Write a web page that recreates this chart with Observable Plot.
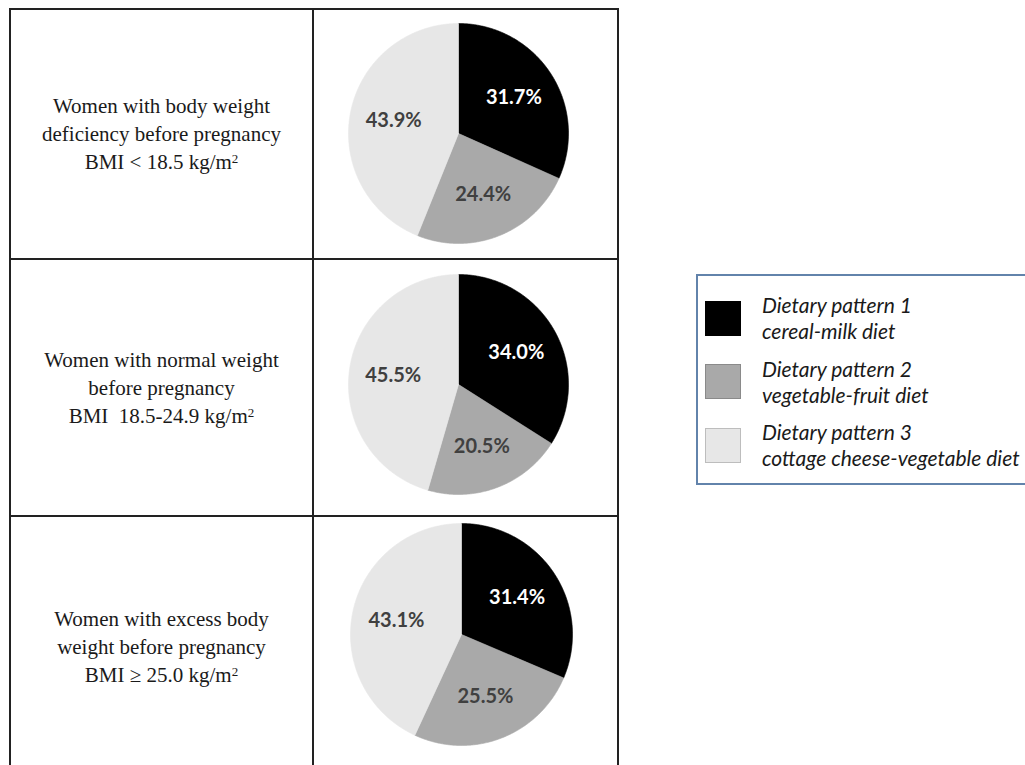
<!DOCTYPE html>
<html><head><meta charset="utf-8">
<script src="https://cdn.jsdelivr.net/npm/d3@7"></script>
<script src="https://cdn.jsdelivr.net/npm/@observablehq/plot@0.6"></script>
<style>
html,body{margin:0;padding:0;background:#fff;width:1025px;height:765px;overflow:hidden;}
#grid{position:absolute;left:9px;top:8px;display:grid;grid-template-columns:301px 303px;grid-template-rows:248px 255px 260px;gap:2px;padding:2px 2px 0 2px;background:#222;}
.cell{background:#fff;position:relative;}
.label{display:flex;align-items:center;justify-content:center;}
.label .txt{text-align:center;font-family:"Liberation Serif","Times New Roman",serif;font-size:21px;line-height:28px;color:#1a1a1a;}
.label sup{font-size:0.62em;line-height:0;vertical-align:0.5em;}
.pie{position:absolute;}
#legend{position:absolute;left:696px;top:274px;width:340px;height:207px;border:2px solid #6283ab;background:#fff;}
.item{position:absolute;left:7px;display:flex;align-items:center;}
.sw{width:34px;height:33px;border:1px solid rgba(0,0,0,0.18);}
.lt{margin-left:21px;font-family:Lato,"Open Sans",sans-serif;font-style:italic;font-size:21px;line-height:26px;color:#1a1a1a;white-space:nowrap;}
</style>
</head><body>
<div id="grid"></div>
<div id="legend"></div>
<script>
// ---- data ----
const groupLines = [
  ["Women with body weight", "deficiency before pregnancy", "BMI &lt; 18.5 kg/m<sup>2</sup>"],
  ["Women with normal weight", "before pregnancy", "BMI&nbsp; 18.5-24.9 kg/m<sup>2</sup>"],
  ["Women with excess body", "weight before pregnancy", "BMI &ge; 25.0 kg/m<sup>2</sup>"]
];
const patterns = ["Dietary pattern 1", "Dietary pattern 2", "Dietary pattern 3"];
const descriptions = ["cereal-milk diet", "vegetable-fruit diet", "cottage cheese-vegetable diet"];
const shares1 = [31.7, 24.4, 43.9];
const shares2 = [34.0, 20.5, 45.5];
const shares3 = [31.4, 25.5, 43.1];
const shares = [shares1, shares2, shares3];
const fills = ["#000000", "#a9a9a9", "#e7e7e7"];
const labelColors = ["#ffffff", "#404040", "#404040"];

// ---- layout ----
const pieBoxes = [{left:32, top:11, size:224}, {left:32, top:12, size:224}, {left:34, top:4, size:226}];

const grid = document.getElementById("grid");

function pieChart(vals, size) {
  const arcs = d3.pie().sort(null).value(d => d.v)(vals.map((v, i) => ({v, pattern: patterns[i], i})));
  const pts = [];
  arcs.forEach(a => {
    const p = a.data.pattern;
    pts.push({pattern: p, x: 0, y: 0});
    const n = Math.max(2, Math.ceil((a.endAngle - a.startAngle) / (Math.PI / 360)));
    for (let k = 0; k <= n; k++) {
      const t = a.startAngle + (a.endAngle - a.startAngle) * k / n;
      pts.push({pattern: p, x: Math.sin(t), y: Math.cos(t)});
    }
    pts.push({pattern: p, x: 0, y: 0});
  });
  const mid = a => (a.startAngle + a.endAngle) / 2;
  const lr = 0.6;
  const textOpts = (fill) => ({
    x: a => lr * Math.sin(mid(a)),
    y: a => lr * Math.cos(mid(a)),
    text: a => a.data.v.toFixed(1) + "%",
    fill,
    fontFamily: "Lato, 'Open Sans', sans-serif",
    fontWeight: "bold",
    fontSize: 20
  });
  return Plot.plot({
    width: size, height: size, margin: 2,
    style: {background: "transparent", overflow: "visible"},
    x: {domain: [-1, 1], axis: null},
    y: {domain: [-1, 1], axis: null},
    color: {domain: patterns, range: fills},
    marks: [
      Plot.line(pts, {x: "x", y: "y", z: "pattern", fill: "pattern", stroke: "pattern", strokeWidth: 0.6, curve: "linear"}),
      Plot.text(arcs.filter(a => a.data.i === 0), textOpts(labelColors[0])),
      Plot.text(arcs.filter(a => a.data.i !== 0), textOpts(labelColors[1]))
    ]
  });
}

groupLines.forEach((lines, r) => {
  const c1 = document.createElement("div");
  c1.className = "cell label";
  const t = document.createElement("div");
  t.className = "txt";
  t.innerHTML = lines.join("<br>");
  c1.appendChild(t);
  grid.appendChild(c1);
  const c2 = document.createElement("div");
  c2.className = "cell";
  const box = pieBoxes[r];
  const svg = pieChart(shares[r], box.size);
  svg.classList.add("pie");
  svg.style.left = box.left + "px";
  svg.style.top = box.top + "px";
  c2.appendChild(svg);
  grid.appendChild(c2);
});

const legend = document.getElementById("legend");
patterns.forEach((p, i) => {
  const it = document.createElement("div");
  it.className = "item";
  it.style.top = (16 + i * 63.5) + "px";
  const sw = document.createElement("div");
  sw.className = "sw";
  sw.style.background = fills[i];
  const lt = document.createElement("div");
  lt.className = "lt";
  lt.innerHTML = p + "<br>" + descriptions[i];
  it.appendChild(sw); it.appendChild(lt);
  legend.appendChild(it);
});
</script>
</body></html>
